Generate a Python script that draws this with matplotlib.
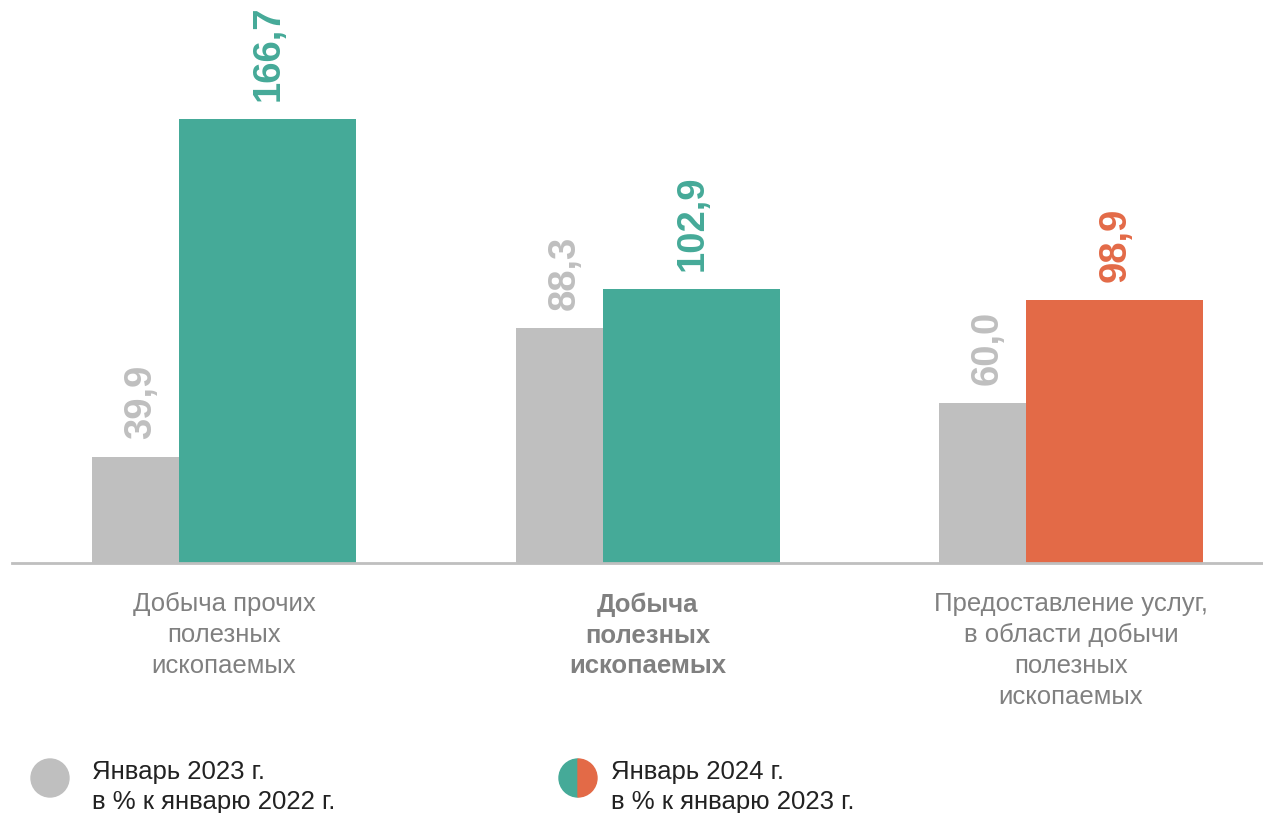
import matplotlib
matplotlib.use("Agg")
import matplotlib.pyplot as plt
from matplotlib.patches import Circle, Wedge

plt.rcParams['font.family'] = ['Liberation Sans', 'DejaVu Sans']

categories = ["Добыча прочих\nполезных\nископаемых",
              "Добыча\nполезных\nископаемых",
              "Предоставление услуг,\nв области добычи\nполезных\nископаемых"]
vals_2023 = [39.9, 88.3, 60.0]
vals_2024 = [166.7, 102.9, 98.9]
labels_2023 = ["39,9", "88,3", "60,0"]
labels_2024 = ["166,7", "102,9", "98,9"]
legend_labels = ["Январь 2023 г.\nв % к январю 2022 г.", "Январь 2024 г.\nв % к январю 2023 г."]

GREY = "#BFBFBF"
GREEN = "#45AA98"
ORANGE = "#E36A47"
colors_2024 = [GREEN, GREEN, ORANGE]

W, H = 1263, 813
fig = plt.figure(figsize=(W / 100, H / 100), dpi=100)
ax = fig.add_axes([12 / W, (H - 563) / H, 1 - 12 / W, 563 / H])

step = 423.5
w1 = 87 / step
w2 = 177 / step
ax.set_xlim((12 - 92) / step, (1263 - 92) / step)
ax.set_ylim(0, 166.7 * 563 / 444)

for i in range(3):
    ax.bar(i, vals_2023[i], width=w1, align='edge', color=GREY, zorder=2)
    ax.bar(i + w1, vals_2024[i], width=w2, align='edge', color=colors_2024[i], zorder=2)
    ax.annotate(labels_2023[i], (i + w1 / 2, vals_2023[i]), xytext=(4, 13),
                textcoords='offset points', rotation=90, ha='center', va='bottom',
                fontsize=27.5, fontweight='bold', color=GREY)
    ax.annotate(labels_2024[i], (i + w1 + w2 / 2, vals_2024[i]), xytext=(1, 13),
                textcoords='offset points', rotation=90, ha='center', va='bottom',
                fontsize=27.5, fontweight='bold', color=colors_2024[i])
    ax.text(i + (w1 + w2) / 2, -11, categories[i], ha='center', va='top',
            fontsize=18.5, color='#808080', linespacing=1.36,
            fontweight='bold' if i == 1 else 'normal')

for s in ['top', 'right', 'left']:
    ax.spines[s].set_visible(False)
ax.spines['bottom'].set_color('#BFBFBF')
ax.spines['bottom'].set_linewidth(2)
ax.set_xticks([])
ax.set_yticks([])

# legend
lax = fig.add_axes([0, 0, 1, 1])
lax.set_xlim(0, W)
lax.set_ylim(H, 0)
lax.axis('off')
lax.add_patch(Circle((50, 778), 19, color=GREY))
lax.add_patch(Wedge((578, 778), 19, 90, 270, color=GREEN))
lax.add_patch(Wedge((578, 778), 19, 270, 90, color=ORANGE))
lax.set_aspect('equal')
lax.text(92, 787, legend_labels[0], ha='left', va='center', fontsize=18.5,
         color='#222222', linespacing=1.3)
lax.text(611, 787, legend_labels[1], ha='left', va='center', fontsize=18.5,
         color='#222222', linespacing=1.3)

fig.savefig("out.png", dpi=100)
